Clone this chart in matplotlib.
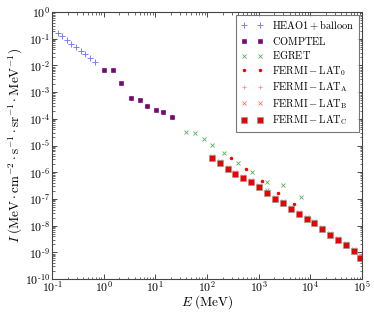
import numpy as np
import matplotlib
matplotlib.use('Agg')
import matplotlib.pyplot as plt
from matplotlib.ticker import LogLocator, NullFormatter, FuncFormatter

plt.rcParams['mathtext.fontset'] = 'cm'
plt.rcParams['font.family'] = 'serif'
plt.rcParams['font.serif'] = ['DejaVu Serif']

# HEAO1 + balloon
heao_E = [0.101, 0.129, 0.156, 0.192, 0.237, 0.291, 0.359, 0.442, 0.543, 0.670]
heao_I = [0.231, 0.168, 0.126, 0.0894, 0.065, 0.0476, 0.0346, 0.026, 0.0189, 0.0138]

# COMPTEL
comptel_E = [1.03, 1.5, 2.19, 3.38, 4.98, 6.99, 10.2, 14.1, 21.3]
comptel_I = [6.5e-3, 6.5e-3, 2.25e-3, 6.2e-4, 5.1e-4, 3.0e-4, 2.1e-4, 1.8e-4, 1.2e-4]

# EGRET
egret_E = [38.7, 59.8, 86.7, 126.5, 218, 404, 733, 1469, 2958, 6590]
egret_I = [3.26e-5, 3.07e-5, 1.83e-5, 1.06e-5, 5.47e-6, 2.27e-6, 1.04e-6, 4.3e-7, 3.37e-7, 1.21e-7]

# FERMI-LAT_0
lat0_E = [288, 576, 1159, 2333, 4720, 9290]
lat0_I = [3.32e-6, 1.29e-6, 4.68e-7, 1.71e-7, 6.44e-8, 1.98e-8]

# FERMI-LAT_C
latc_E = [123, 176, 250, 355, 505, 718, 1020, 1450, 2060, 2930,
          4170, 5930, 8430, 12000, 17000, 24200, 34400, 49000, 69600, 90100]
latc_I = [3.40e-6, 2.15e-6, 1.32e-6, 8.57e-7, 6.07e-7, 4.40e-7, 2.72e-7, 1.71e-7,
          1.02e-7, 6.84e-8, 4.19e-8, 2.72e-8, 1.72e-8, 1.25e-8, 7.26e-9,
          4.54e-9, 2.81e-9, 1.83e-9, 1.12e-9, 6.28e-10]

# FERMI-LAT_A (hidden under LAT_C)
lata_E = latc_E
lata_I = latc_I

# FERMI-LAT_B (slightly above LAT_C)
latb_E = latc_E
latb_I = [4.1e-6, 2.6e-6, 1.6e-6, 1.04e-6, 7.3e-7, 5.3e-7, 3.3e-7, 2.07e-7,
          1.23e-7, 8.3e-8, 5.1e-8, 3.3e-8, 2.08e-8, 1.5e-8, 8.8e-9,
          5.5e-9, 3.4e-9, 2.2e-9, 1.35e-9, 7.6e-10]

# tick decades
x_decades = [-1, 0, 1, 2, 3, 4, 5]
y_decades = [-10, -9, -8, -7, -6, -5, -4, -3, -2, -1, 0]


# power of ten label with a short minus sign
def pow10_label(v, pos):
    e = int(round(np.log10(v)))
    if e < 0:
        return r'$10^{\text{-}%d}$' % (-e)
    return r'$10^{%d}$' % e


fig = plt.figure(figsize=(3.74, 3.13), dpi=100)
ax = fig.add_axes([0.139, 0.1086, 0.829, 0.853])

ax.plot(heao_E, heao_I, '+', color='#7b7bff', ms=4, mew=0.7, label=r'$\mathrm{HEAO1 + balloon}$')
ax.plot(comptel_E, comptel_I, 's', color='#800080', ms=3.5, mec='#500050', mew=0.4, label=r'$\mathrm{COMPTEL}$')
ax.plot(egret_E, egret_I, 'x', color='#55b055', ms=3, mew=0.6, label=r'$\mathrm{EGRET}$')
ax.plot(lat0_E, lat0_I, '.', color='red', ms=3, label=r'$\mathrm{FERMI-LAT_0}$')
ax.plot(lata_E, lata_I, '+', color='#ff9090', ms=3.5, mew=0.6, label=r'$\mathrm{FERMI-LAT_A}$')
ax.plot(latb_E, latb_I, 'x', color='#ff7070', ms=3, mew=0.6, label=r'$\mathrm{FERMI-LAT_B}$')
ax.plot(latc_E, latc_I, 's', color='#ee0000', ms=4, mec='#999999', mew=0.5, label=r'$\mathrm{FERMI-LAT_C}$')

ax.set_xscale('log')
ax.set_yscale('log')
ax.set_xlim(0.1, 1e5)
ax.set_ylim(1e-10, 1)
ax.set_xticks([10.0 ** d for d in x_decades])
ax.set_yticks([10.0 ** d for d in y_decades])
ax.yaxis.set_minor_locator(LogLocator(base=10, subs=np.arange(2, 10), numticks=20))
ax.yaxis.set_minor_formatter(NullFormatter())
ax.xaxis.set_minor_formatter(NullFormatter())
ax.xaxis.set_major_formatter(FuncFormatter(pow10_label))
ax.yaxis.set_major_formatter(FuncFormatter(pow10_label))
ax.tick_params(which='both', direction='in', top=True, right=True, labelsize=8.5)
ax.tick_params(axis='x', pad=0.5)
ax.tick_params(axis='y', pad=1.5)
ax.tick_params(which='major', length=3.5, width=0.5)
ax.tick_params(which='minor', length=1.8, width=0.4)
for s in ax.spines.values():
    s.set_linewidth(0.8)
    s.set_color('#444444')

ax.set_xlabel(r'$E\ (\mathrm{MeV})$', fontsize=9.5, labelpad=-1)
ax.set_ylabel(r'$I\ (\mathrm{MeV\cdot cm^{-2}\cdot s^{-1}\cdot sr^{-1}\cdot MeV^{-1}})$', fontsize=9.5, labelpad=0)

leg = ax.legend(loc='upper right', numpoints=2, fontsize=7.5, fancybox=False,
                borderaxespad=0.3, handlelength=2.2, labelspacing=0.25, borderpad=0.45)
leg.get_frame().set_edgecolor('#555555')
leg.get_frame().set_linewidth(0.8)

fig.savefig('out.png', dpi=100)
